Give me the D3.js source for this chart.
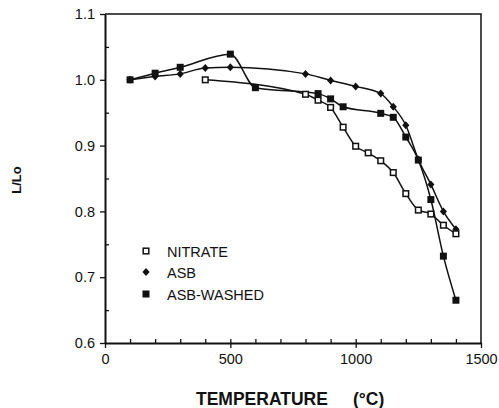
<!DOCTYPE html>
<html>
<head>
<meta charset="utf-8">
<script src="https://cdn.jsdelivr.net/npm/d3@7"></script>
<style>
  body { margin: 0; background: #fff; }
  svg text { font-family: "Liberation Sans", Arial, sans-serif; fill: #111; }
  .axis path, .axis line { stroke: #111; }
</style>
</head>
<body>
<div id="graphic"></div>
<script>
// temperatures (°C) and L/Lo readings for each sample
var nitrateT = [400, 800, 850, 900, 950, 1000, 1050, 1100, 1150, 1200, 1250, 1300, 1350, 1400];
var nitrateL = [1.0, 0.978, 0.969, 0.958, 0.928, 0.899, 0.889, 0.877, 0.859, 0.827, 0.802, 0.796, 0.779, 0.766];

var asbT = [100, 200, 300, 400, 500, 800, 900, 1000, 1100, 1150, 1200, 1250, 1300, 1350, 1400];
var asbL = [1.0, 1.005, 1.009, 1.018, 1.019, 1.009, 0.999, 0.99, 0.979, 0.959, 0.931, 0.879, 0.841, 0.80, 0.773];

var washedT = [100, 200, 300, 500, 600, 850, 900, 950, 1100, 1150, 1200, 1250, 1300, 1350, 1400];
var washedL = [1.0, 1.01, 1.019, 1.039, 0.988, 0.979, 0.971, 0.959, 0.949, 0.943, 0.913, 0.878, 0.818, 0.732, 0.665];

var legendNames = ["NITRATE", "ASB", "ASB-WASHED"];
var xMajor = [0, 500, 1000, 1500];
var yMajor = [0.6, 0.7, 0.8, 0.9, 1.0, 1.1];

function zip(t, l){
    return t.map(function(d, i){ return [d, l[i]]; });
}

var w = 499, h = 408;
var padL = 105, padR = 481, padT = 14, padB = 343;

var svg = d3.select("#graphic")
    .append("svg")
    .attr("width", w)
    .attr("height", h);

var xScale = d3.scaleLinear().domain([0, 1500]).range([padL, padR]);
var yScale = d3.scaleLinear().domain([0.6, 1.1]).range([padB, padT]);

// frame (top and right)
svg.append("path")
   .attr("d", "M" + padL + "," + padT + "H" + padR + "V" + padB)
   .attr("fill", "none")
   .attr("stroke", "#111")
   .attr("stroke-width", 1.5);

// minor ticks point inward
svg.append("g")
   .attr("class", "axis")
   .attr("transform", "translate(0," + padB + ")")
   .call(d3.axisBottom(xScale).tickValues(d3.range(100, 1500, 100)).tickSize(-4).tickFormat(""))
   .call(function(g){ g.select(".domain").remove(); });
svg.append("g")
   .attr("class", "axis")
   .attr("transform", "translate(" + padL + ",0)")
   .call(d3.axisLeft(yScale).tickValues([0.65, 0.75, 0.85, 0.95, 1.05]).tickSize(-4).tickFormat(""))
   .call(function(g){ g.select(".domain").remove(); });

// major axes
var gx = svg.append("g")
   .attr("class", "axis")
   .attr("transform", "translate(0," + padB + ")")
   .call(d3.axisBottom(xScale).tickValues(xMajor).tickSize(5).tickSizeOuter(0).tickPadding(6)
         .tickFormat(d3.format("d")));
var gy = svg.append("g")
   .attr("class", "axis")
   .attr("transform", "translate(" + padL + ",0)")
   .call(d3.axisLeft(yScale).tickValues(yMajor).tickSize(5).tickSizeOuter(0).tickPadding(5)
         .tickFormat(d3.format(".1f")));
gx.select(".domain").attr("stroke-width", 2);
gy.select(".domain").attr("stroke-width", 2);
svg.selectAll(".axis line").attr("stroke-width", 1.3);
svg.selectAll(".axis text").style("font-size", "14.5px").attr("fill", "#111");

// axis titles
svg.append("text")
   .attr("x", 196).attr("y", 405)
   .style("font-size", "17.5px").style("font-weight", "bold")
   .text("TEMPERATURE");
svg.append("text")
   .attr("x", 353).attr("y", 405)
   .style("font-size", "17.5px").style("font-weight", "bold")
   .text("(°C)");
svg.append("text")
   .attr("transform", "translate(21,180) rotate(-90)")
   .attr("text-anchor", "middle")
   .style("font-size", "13px").style("font-weight", "bold")
   .text("L/Lo");

// lines
var line = d3.line()
    .x(function(d){ return xScale(d[0]); })
    .y(function(d){ return yScale(d[1]); })
    .curve(d3.curveMonotoneX);

var series = [zip(nitrateT, nitrateL), zip(asbT, asbL), zip(washedT, washedL)];

series.forEach(function(s){
    svg.append("path")
       .datum(s)
       .attr("d", line)
       .attr("fill", "none")
       .attr("stroke", "#111")
       .attr("stroke-width", 1.5);
});

// markers
function drawMarker(g, kind, cx, cy){
    if (kind === 0){
        g.append("rect")
         .attr("x", cx - 2.8).attr("y", cy - 2.8)
         .attr("width", 5.6).attr("height", 5.6)
         .attr("fill", "#fff").attr("stroke", "#111").attr("stroke-width", 1.5);
    } else if (kind === 1){
        g.append("path")
         .attr("d", "M" + cx + "," + (cy - 4) + "L" + (cx + 3.6) + "," + cy + "L" + cx + "," + (cy + 4) + "L" + (cx - 3.6) + "," + cy + "Z")
         .attr("fill", "#111");
    } else {
        g.append("rect")
         .attr("x", cx - 3.5).attr("y", cy - 3.5)
         .attr("width", 7).attr("height", 7)
         .attr("fill", "#111");
    }
}

var marks = svg.append("g");
[1, 0, 2].forEach(function(k){
    series[k].forEach(function(d){
        drawMarker(marks, k, xScale(d[0]), yScale(d[1]));
    });
});

// legend
var legendY = [251, 272, 294];
legendNames.forEach(function(name, i){
    drawMarker(svg, i, 146, legendY[i]);
    svg.append("text")
       .attr("x", 167).attr("y", legendY[i] + 5.5)
       .style("font-size", "14.5px")
       .text(name);
});
</script>
</body>
</html>
